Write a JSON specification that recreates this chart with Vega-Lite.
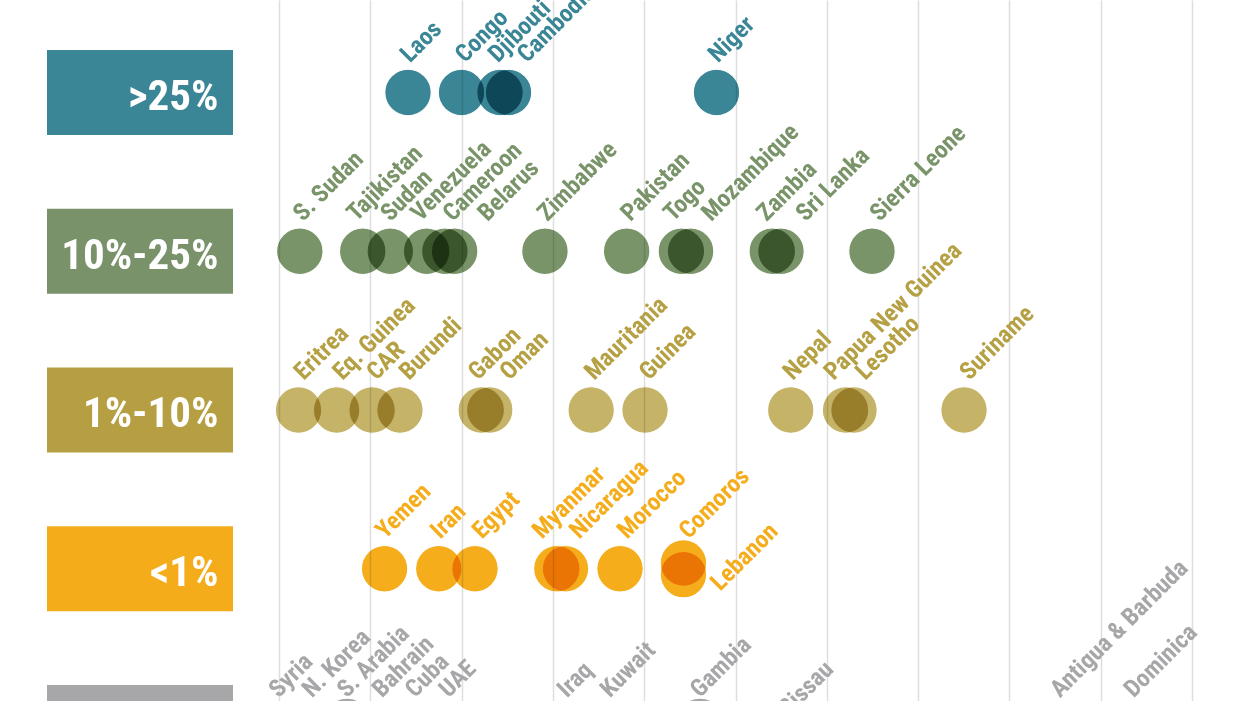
{
  "$schema": "https://vega.github.io/schema/vega-lite/v6.json",
  "width": 1245,
  "height": 701,
  "autosize": {"type": "none"},
  "padding": 0,
  "background": "white",
  "config": {
    "view": {"stroke": null},
    "axis": {"labels": false, "ticks": false, "domain": false, "grid": true, "gridColor": "#dedede", "gridWidth": 1.5, "title": null}
  },
  "datasets": {
    "cats": [
      {"cat": ">25%", "r": 0},
      {"cat": "10%-25%", "r": 1},
      {"cat": "1%-10%", "r": 2},
      {"cat": "<1%", "r": 3},
      {"cat": "n/a", "r": 4}
    ],
    "countries": [
      {"name": "Laos", "cat": ">25%", "ly": 0, "x": 1.413, "y": 0, "lx": 1.303, "side": "a"},
      {"name": "Congo", "cat": ">25%", "ly": 0, "x": 1.999, "y": 0, "lx": 1.906, "side": "a"},
      {"name": "Djibouti", "cat": ">25%", "ly": 0, "x": 2.421, "y": 0, "lx": 2.267, "side": "a"},
      {"name": "Cambodia", "cat": ">25%", "ly": 0, "x": 2.514, "y": 0, "lx": 2.585, "side": "a"},
      {"name": "Niger", "cat": ">25%", "ly": 0, "x": 4.792, "y": 0, "lx": 4.677, "side": "a"},
      {"name": "S. Sudan", "cat": "10%-25%", "ly": 1, "x": 0.228, "y": 1, "lx": 0.131, "side": "a"},
      {"name": "Tajikistan", "cat": "10%-25%", "ly": 1, "x": 0.917, "y": 1, "lx": 0.717, "side": "a"},
      {"name": "Sudan", "cat": "10%-25%", "ly": 1, "x": 1.219, "y": 1, "lx": 1.089, "side": "a"},
      {"name": "Venezuela", "cat": "10%-25%", "ly": 1, "x": 1.617, "y": 1, "lx": 1.417, "side": "a"},
      {"name": "Cameroon", "cat": "10%-25%", "ly": 1, "x": 1.817, "y": 1, "lx": 1.771, "side": "a"},
      {"name": "Belarus", "cat": "10%-25%", "ly": 1, "x": 1.924, "y": 1, "lx": 2.151, "side": "a"},
      {"name": "Zimbabwe", "cat": "10%-25%", "ly": 1, "x": 2.913, "y": 1, "lx": 2.807, "side": "a"},
      {"name": "Pakistan", "cat": "10%-25%", "ly": 1, "x": 3.808, "y": 1, "lx": 3.717, "side": "a"},
      {"name": "Togo", "cat": "10%-25%", "ly": 1, "x": 4.407, "y": 1, "lx": 4.187, "side": "a"},
      {"name": "Mozambique", "cat": "10%-25%", "ly": 1, "x": 4.508, "y": 1, "lx": 4.602, "side": "a"},
      {"name": "Zambia", "cat": "10%-25%", "ly": 1, "x": 5.403, "y": 1, "lx": 5.208, "side": "a"},
      {"name": "Sri Lanka", "cat": "10%-25%", "ly": 1, "x": 5.498, "y": 1, "lx": 5.638, "side": "a"},
      {"name": "Sierra Leone", "cat": "10%-25%", "ly": 1, "x": 6.495, "y": 1, "lx": 6.447, "side": "a"},
      {"name": "Eritrea", "cat": "1%-10%", "ly": 2, "x": 0.214, "y": 2, "lx": 0.140, "side": "a"},
      {"name": "Eq. Guinea", "cat": "1%-10%", "ly": 2, "x": 0.631, "y": 2, "lx": 0.564, "side": "a"},
      {"name": "CAR", "cat": "1%-10%", "ly": 2, "x": 1.020, "y": 2, "lx": 0.935, "side": "a"},
      {"name": "Burundi", "cat": "1%-10%", "ly": 2, "x": 1.325, "y": 2, "lx": 1.291, "side": "a"},
      {"name": "Gabon", "cat": "1%-10%", "ly": 2, "x": 2.215, "y": 2, "lx": 2.048, "side": "a"},
      {"name": "Oman", "cat": "1%-10%", "ly": 2, "x": 2.308, "y": 2, "lx": 2.393, "side": "a"},
      {"name": "Mauritania", "cat": "1%-10%", "ly": 2, "x": 3.419, "y": 2, "lx": 3.321, "side": "a"},
      {"name": "Guinea", "cat": "1%-10%", "ly": 2, "x": 4.009, "y": 2, "lx": 3.920, "side": "a"},
      {"name": "Nepal", "cat": "1%-10%", "ly": 2, "x": 5.605, "y": 2, "lx": 5.495, "side": "a"},
      {"name": "Papua New Guinea", "cat": "1%-10%", "ly": 2, "x": 6.205, "y": 2, "lx": 5.945, "side": "a"},
      {"name": "Lesotho", "cat": "1%-10%", "ly": 2, "x": 6.298, "y": 2, "lx": 6.290, "side": "a"},
      {"name": "Suriname", "cat": "1%-10%", "ly": 2, "x": 7.503, "y": 2, "lx": 7.430, "side": "a"},
      {"name": "Yemen", "cat": "<1%", "ly": 3, "x": 1.156, "y": 3, "lx": 1.033, "side": "a"},
      {"name": "Iran", "cat": "<1%", "ly": 3, "x": 1.750, "y": 3, "lx": 1.635, "side": "a"},
      {"name": "Egypt", "cat": "<1%", "ly": 3, "x": 2.147, "y": 3, "lx": 2.092, "side": "a"},
      {"name": "Myanmar", "cat": "<1%", "ly": 3, "x": 3.043, "y": 3, "lx": 2.749, "side": "a"},
      {"name": "Nicaragua", "cat": "<1%", "ly": 3, "x": 3.138, "y": 3, "lx": 3.158, "side": "a"},
      {"name": "Morocco", "cat": "<1%", "ly": 3, "x": 3.735, "y": 3, "lx": 3.680, "side": "a"},
      {"name": "Comoros", "cat": "<1%", "ly": 3, "x": 4.430, "y": 2.964, "lx": 4.356, "side": "a"},
      {"name": "Lebanon", "cat": "<1%", "ly": 3, "x": 4.430, "y": 3.037, "lx": 4.757, "side": "b"},
      {"name": "Syria", "cat": "n/a", "ly": 4, "x": -0.022, "y": 4, "lx": -0.135, "side": "a"},
      {"name": "N. Korea", "cat": "n/a", "ly": 4, "x": 0.340, "y": 4, "lx": 0.230, "side": "a"},
      {"name": "S. Arabia", "cat": "n/a", "ly": 4, "x": 0.745, "y": 3.961, "lx": 0.613, "side": "a"},
      {"name": "Bahrain", "cat": "n/a", "ly": 4, "x": 1.106, "y": 4, "lx": 0.997, "side": "a"},
      {"name": "Cuba", "cat": "n/a", "ly": 4, "x": 1.468, "y": 4, "lx": 1.358, "side": "a"},
      {"name": "UAE", "cat": "n/a", "ly": 4, "x": 1.840, "y": 4, "lx": 1.727, "side": "a"},
      {"name": "Iraq", "cat": "n/a", "ly": 4, "x": 3.133, "y": 4, "lx": 3.023, "side": "a"},
      {"name": "Kuwait", "cat": "n/a", "ly": 4, "x": 3.604, "y": 4, "lx": 3.494, "side": "a"},
      {"name": "Gambia", "cat": "n/a", "ly": 4, "x": 4.611, "y": 3.961, "lx": 4.480, "side": "a"},
      {"name": "Guinea-Bissau", "cat": "n/a", "ly": 4.132, "x": 4.611, "y": 4.037, "lx": 4.907, "side": "b"},
      {"name": "Antigua & Barbuda", "cat": "n/a", "ly": 4, "x": 8.532, "y": 4, "lx": 8.423, "side": "a"},
      {"name": "Dominica", "cat": "n/a", "ly": 4, "x": 9.332, "y": 4, "lx": 9.230, "side": "a"}
    ]
  },
  "resolve": {"scale": {"color": "independent"}},
  "layer": [
    {
      "data": {"name": "cats"},
      "mark": {"type": "point", "shape": "M-1,-0.457L1,-0.457L1,0.457L-1,0.457Z", "filled": true, "opacity": 1, "size": 34596, "strokeWidth": 0},
      "encoding": {
        "x": {"datum": -1.5225, "type": "quantitative", "scale": {"domain": [-3.0559, 10.5805], "nice": false, "zero": false}, "axis": {"values": [0, 1, 2, 3, 4, 5, 6, 7, 8, 9, 10], "title": null}},
        "y": {"field": "r", "type": "quantitative", "scale": {"domain": [-0.5827, 3.8331], "reverse": true, "nice": false, "zero": false}, "axis": null},
        "color": {"field": "cat", "type": "nominal", "legend": null, "scale": {"domain": [">25%", "10%-25%", "1%-10%", "<1%", "n/a"], "range": ["#3b8696", "#7a926a", "#b59f42", "#f5ac1b", "#a7a7aa"]}}
      }
    },
    {
      "data": {"name": "cats"},
      "transform": [{"filter": "datum.r < 4"}],
      "mark": {"type": "text", "align": "right", "baseline": "alphabetic", "dy": 17.5, "fontSize": 43, "fontWeight": "bold", "font": "Roboto Condensed, Liberation Sans Narrow, Arial Narrow, sans-serif", "color": "white"},
      "encoding": {
        "x": {"datum": -0.6627, "type": "quantitative", "axis": {"values": [0, 1, 2, 3, 4, 5, 6, 7, 8, 9, 10], "title": null}},
        "y": {"field": "r", "type": "quantitative", "axis": null},
        "text": {"field": "cat"}
      }
    },
    {
      "data": {"name": "countries"},
      "mark": {"type": "point", "shape": "circle", "filled": true, "opacity": 1, "size": 2162, "stroke": "white", "strokeWidth": 1.2, "strokeOpacity": 1, "blend": "multiply"},
      "encoding": {
        "x": {"field": "x", "type": "quantitative", "axis": {"values": [0, 1, 2, 3, 4, 5, 6, 7, 8, 9, 10], "title": null}},
        "y": {"field": "y", "type": "quantitative", "axis": null},
        "fill": {"field": "cat", "type": "nominal", "legend": null, "scale": {"domain": [">25%", "10%-25%", "1%-10%", "<1%", "n/a"], "range": ["#3b8696", "#7a946a", "#c5b368", "#f5ad1c", "#a7a7aa"]}}
      }
    },
    {
      "data": {"name": "countries"},
      "transform": [{"filter": "datum.side == 'a'"}],
      "mark": {"type": "text", "align": "left", "baseline": "alphabetic", "angle": -45, "dx": 29.0, "dy": -12.0, "fontSize": 24.5, "fontWeight": "bold", "font": "Roboto Condensed, Liberation Sans Narrow, Arial Narrow, sans-serif"},
      "encoding": {
        "x": {"field": "lx", "type": "quantitative", "axis": {"values": [0, 1, 2, 3, 4, 5, 6, 7, 8, 9, 10], "title": null}},
        "y": {"field": "ly", "type": "quantitative", "axis": null},
        "text": {"field": "name"},
        "color": {"field": "cat", "type": "nominal", "legend": null, "scale": {"domain": [">25%", "10%-25%", "1%-10%", "<1%", "n/a"], "range": ["#3b8696", "#7a946a", "#b5a043", "#f5ad1c", "#a7a7aa"]}}
      }
    },
    {
      "data": {"name": "countries"},
      "transform": [{"filter": "datum.side == 'b'"}],
      "mark": {"type": "text", "align": "left", "baseline": "alphabetic", "angle": -45, "dx": -11.3, "dy": 21.2, "fontSize": 24.5, "fontWeight": "bold", "font": "Roboto Condensed, Liberation Sans Narrow, Arial Narrow, sans-serif"},
      "encoding": {
        "x": {"field": "lx", "type": "quantitative", "axis": {"values": [0, 1, 2, 3, 4, 5, 6, 7, 8, 9, 10], "title": null}},
        "y": {"field": "ly", "type": "quantitative", "axis": null},
        "text": {"field": "name"},
        "color": {"field": "cat", "type": "nominal", "legend": null, "scale": {"domain": [">25%", "10%-25%", "1%-10%", "<1%", "n/a"], "range": ["#3b8696", "#7a946a", "#b5a043", "#f5ad1c", "#a7a7aa"]}}
      }
    }
  ]
}
